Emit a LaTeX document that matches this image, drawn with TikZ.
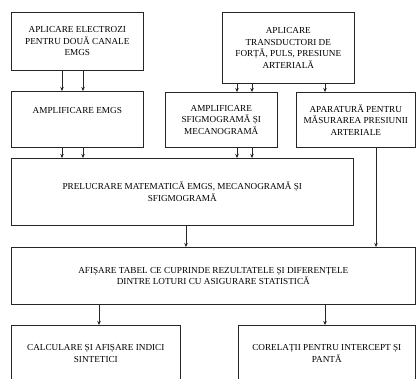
\documentclass[tikz,border=0pt]{standalone}
\usepackage{fontspec}
\setmainfont{Liberation Serif}
\usetikzlibrary{arrows.meta}

\tikzset{
  blok/.style={draw=black!85, line width=0.6pt, anchor=north west, inner sep=0pt,
    align=center, font=\fontsize{9.2}{11.5}\selectfont},
  sag/.style={draw=black!85, line width=0.6pt, -{Stealth[length=4pt,width=3.5pt]}}
}

\begin{document}
\begin{tikzpicture}[x=1pt, y=-1pt]
  \useasboundingbox (0,0) rectangle (417,378);
  \clip (0,0) rectangle (417,378);

  % blocuri
  \node[blok, minimum width=132, minimum height=58] (electrozi) at (11,12)
    {APLICARE ELECTROZI\\PENTRU DOUĂ CANALE\\EMGS};
  \node[blok, minimum width=132, minimum height=71] (transductori) at (222,12)
    {APLICARE\\TRANSDUCTORI DE\\FORȚĂ, PULS, PRESIUNE\\ARTERIALĂ};
  \node[blok, minimum width=132, minimum height=56] (ampemgs) at (11,91)
    {AMPLIFICARE EMGS\\[6pt]};
  \node[blok, minimum width=112, minimum height=55] (ampsfigmo) at (165,92)
    {AMPLIFICARE\\SFIGMOGRAMĂ ȘI\\MECANOGRAMĂ};
  \node[blok, minimum width=119, minimum height=55] (aparatura) at (296,92)
    {APARATURĂ PENTRU\\MĂSURAREA PRESIUNII\\ARTERIALE};
  \node[blok, minimum width=342, minimum height=67] (prelucrare) at (11,158)
    {PRELUCRARE MATEMATICĂ EMGS, MECANOGRAMĂ ȘI\\SFIGMOGRAMĂ};
  \node[blok, minimum width=404, minimum height=57] (tabel) at (11,247)
    {AFIȘARE TABEL CE CUPRINDE REZULTATELE ȘI DIFERENȚELE\\DINTRE LOTURI CU ASIGURARE STATISTICĂ};
  \node[blok, minimum width=169, minimum height=56] (indici) at (11,325)
    {CALCULARE ȘI AFIȘARE INDICI\\SINTETICI};
  \node[blok, minimum width=177, minimum height=56] (corelatii) at (238,325)
    {CORELAȚII PENTRU INTERCEPT ȘI\\PANTĂ};

  % sageti
  \foreach \x in {62,83} {
    \draw[sag] (electrozi.south west -| \x,0) -- (ampemgs.north west -| \x,0);
    \draw[sag] (ampemgs.south west -| \x,0) -- (prelucrare.north west -| \x,0);
  }
  \foreach \x in {237,252} {
    \draw[sag] (transductori.south west -| \x,0) -- (ampsfigmo.north west -| \x,0);
    \draw[sag] (ampsfigmo.south west -| \x,0) -- (prelucrare.north west -| \x,0);
  }
  \draw[sag] (transductori.south west -| 325,0) -- (aparatura.north west -| 325,0);
  \draw[sag] (prelucrare.south west -| 186,0) -- (tabel.north west -| 186,0);
  \draw[sag] (aparatura.south west -| 376,0) -- (tabel.north west -| 376,0);
  \draw[sag] (tabel.south west -| 99,0) -- (indici.north west -| 99,0);
  \draw[sag] (tabel.south west -| 325,0) -- (corelatii.north west -| 325,0);
\end{tikzpicture}
\end{document}
